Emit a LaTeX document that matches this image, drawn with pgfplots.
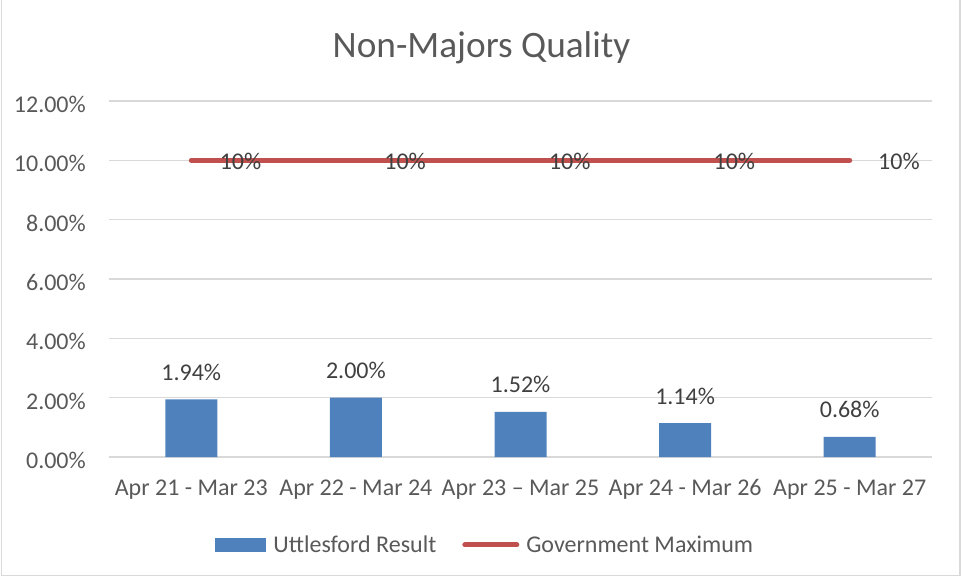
\documentclass[border=0pt]{standalone}
\usepackage{fontspec}
\setmainfont{Carlito}
\usepackage{pgfplots}
\pgfplotsset{compat=1.18}
\definecolor{barblue}{HTML}{4F81BD}
\definecolor{linered}{HTML}{C0504D}
\definecolor{gridgray}{HTML}{D9D9D9}
\definecolor{txtgray}{HTML}{595959}
\definecolor{lbldark}{HTML}{404040}
\newcommand{\fs}{\fontsize{24}{28}\selectfont}
\begin{document}
\begin{tikzpicture}
\useasboundingbox (0pt,0pt) rectangle (961pt,576pt);
\draw[gridgray, line width=1.2pt] (1.5pt,0.6pt) rectangle (960pt,576.5pt);
\node[anchor=base, text=txtgray, inner sep=0pt, font=\fontsize{37.3}{44}\selectfont] at (481.5pt,518pt) {Non-Majors Quality};
\begin{axis}[
  at={(109pt,119pt)}, anchor=south west,
  scale only axis, width=823pt, height=356pt,
  xmin=-0.5, xmax=4.5, ymin=0, ymax=12,
  ytick={0,2,4,6,8,10,12},
  xtick={0,1,2,3,4},
  xticklabels={Apr 21 - Mar 23, Apr 22 - Mar 24, Apr 23 – Mar 25, Apr 24 - Mar 26, Apr 25 - Mar 27},
  /pgf/number format/assume math mode=true,
  yticklabel={\pgfmathprintnumber[fixed,fixed zerofill,precision=2]{\tick}\%},
  axis line style={draw=none},
  major tick length=0pt,
  ymajorgrids,
  grid style={gridgray, line width=1.5pt},
  tick label style={font=\fs, text=txtgray, inner sep=0pt},
  yticklabel style={anchor=base east, xshift=-23pt, yshift=-11.5pt},
  xticklabel style={anchor=base, yshift=-38pt},
  clip=false,
  legend style={draw=none, fill=none, at={(0.456,-0.247)}, anchor=center,
    legend columns=2, font=\fs, text=txtgray,
    nodes={inner sep=0pt},
    /tikz/every odd column/.append style={column sep=7pt},
    /tikz/every even column/.append style={column sep=26pt}},
  legend cell align=left,
]
\addplot[ybar, bar width=52pt, fill=barblue, draw=none,
  nodes near coords={\pgfmathprintnumber[fixed,fixed zerofill,precision=2]{\pgfplotspointmeta}\%},
  every node near coord/.append style={anchor=base, yshift=19pt, inner sep=0pt, font=\fs, text=lbldark},
  legend image code/.code={\fill[barblue] (0pt,-7pt) rectangle (51pt,7pt);}]
  coordinates {(0,1.94) (1,2.00) (2,1.52) (3,1.14) (4,0.68)};
\addlegendentry{Uttlesford Result}
\addplot[linered, line width=5pt, line cap=round, mark=none,
  nodes near coords={10\%},
  every node near coord/.append style={anchor=base west, xshift=26pt, yshift=-9pt, inner sep=0pt, font=\fs, text=lbldark},
  legend image code/.code={\draw[linered, line width=5pt, line cap=round] (2.5pt,0pt) -- (54.5pt,0pt);}]
  coordinates {(0,10) (1,10) (2,10) (3,10) (4,10)};
\addlegendentry{Government Maximum}
\end{axis}
\end{tikzpicture}
\end{document}
